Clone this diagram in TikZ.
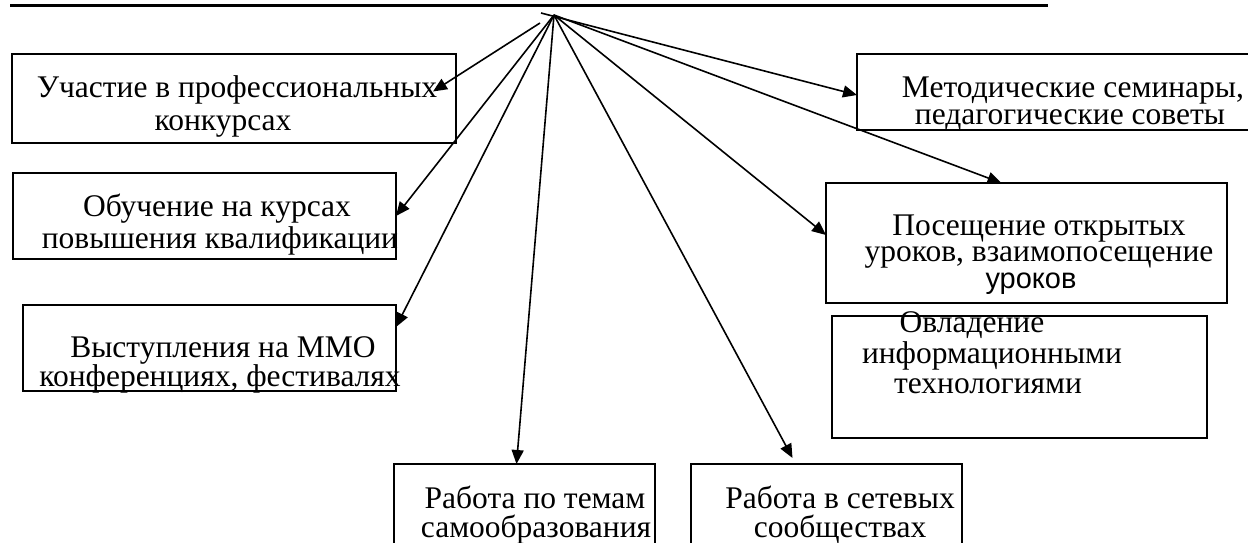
\documentclass[tikz,border=0pt]{standalone}
\usepackage{fontspec}
\setmainfont{Liberation Serif}
\newfontfamily\sansf{Liberation Sans}
\usetikzlibrary{arrows.meta,calc}
\begin{document}
\begin{tikzpicture}[x=1pt,y=-1pt,
  box/.style={draw,line width=1.5pt,inner sep=0pt,outer sep=0pt,anchor=north west},
  lbl/.style={font=\fontsize{31.5}{33}\selectfont,inner sep=0pt,anchor=base},
  arr/.style={line width=1.6pt,-{Triangle[length=14pt,width=12pt]}}]
\useasboundingbox (0,0) rectangle (1248,543);
\clip (0,0) rectangle (1248,543);
% title underline
\draw[line width=3.5pt] (10,5.5) -- (1048,5.5);
% boxes
\node[box,minimum width=444pt,minimum height=89pt] (b1) at (12,54) {};
\node[box,minimum width=383pt,minimum height=86pt] (b2) at (13,173) {};
\node[box,minimum width=373pt,minimum height=86pt] (b3) at (23,305) {};
\node[box,minimum width=261pt,minimum height=100pt] (b4) at (394,464) {};
\node[box,minimum width=271pt,minimum height=100pt] (b5) at (691,464) {};
\node[box,minimum width=401pt,minimum height=120pt] (b6) at (826,183) {};
\node[box,minimum width=403pt,minimum height=76pt] (b7) at (857,54) {};
\node[box,minimum width=375pt,minimum height=122pt] (b8) at (832,316) {};
% texts
\node[lbl] (t1a) at (237,97) {Участие в профессиональных};
\node[lbl] (t1b) at (223,130) {конкурсах};
\node[lbl] (t2a) at (217,216) {Обучение на курсах};
\node[lbl] (t2b) at (220,248) {повышения квалификации};
\node[lbl] (t3a) at (223,357) {Выступления на ММО};
\node[lbl] (t3b) at (220,386) {конференциях, фестивалях};
\node[lbl] (t4a) at (535,508) {Работа по темам};
\node[lbl] (t4b) at (536,537) {самообразования};
\node[lbl] (t5a) at (840,508) {Работа в сетевых};
\node[lbl] (t5b) at (840,537) {сообществах};
\node[lbl] (t7a) at (1073,98) {Методические семинары,};
\node[lbl] (t7b) at (1070,124) {педагогические советы};
\node[lbl] (t6a) at (1039,235) {Посещение открытых};
\node[lbl] (t6b) at (1039,261) {уроков, взаимопосещение};
\node[lbl,font=\sansf\fontsize{29}{30}\selectfont] (t6c) at (1031,288) {уроков};
\node[lbl] (t8a) at (972,332) {Овладение};
\node[lbl] (t8b) at (992,363) {информационными};
\node[lbl] (t8c) at (988,393) {технологиями};
% connectors
\coordinate (hub) at (554,15);
\coordinate (s1) at (540,23);
\coordinate (s8) at (541,13);
\draw[arr] (s1) -- ($(b1.east)+(-23,-7)$);
\draw[arr] (hub) -- (b2.east);
\draw[arr] (hub) -- ($(b3.east)+(0,-21)$);
\draw[arr] (hub) -- ($(b4.north)+(-8,0)$);
\draw[arr] (hub) -- ($(b5.north)+(-34,-6)$);
\draw[arr] (hub) -- ($(b6.west)+(0,-8)$);
\draw[arr] (hub) -- ($(b6.north)+(-25,0)$);
\draw[arr] (s8) -- ($(b7.west)+(0,3)$);
\end{tikzpicture}
\end{document}
